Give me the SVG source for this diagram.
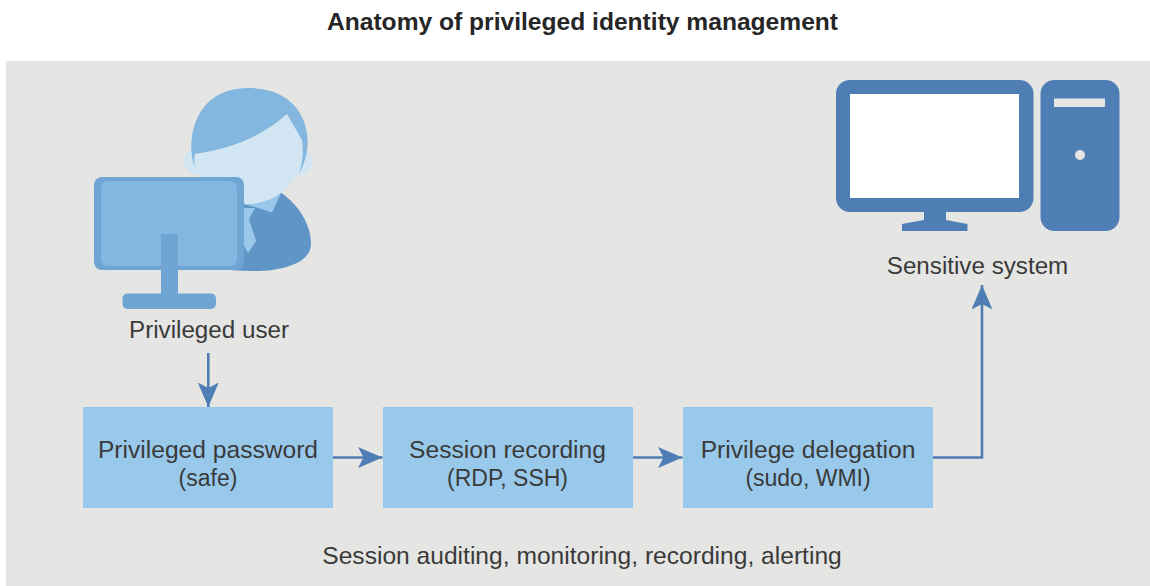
<svg xmlns="http://www.w3.org/2000/svg" width="1150" height="586" viewBox="0 0 1150 586">
<style>
text{font-family:"Liberation Sans",Arial,sans-serif;fill:#3a3a3a;font-size:24.6px;text-anchor:middle}
.title{font-weight:bold;fill:#262626}
.sub{font-size:23px}
.lab{font-size:24.2px}
.box{fill:#99c9ea}
.conn{fill:none;stroke:#4e7eb5;stroke-width:2.6}
.head{fill:#4e7eb5}
.dark{fill:#4f7eb5}
.m{fill:#6fa5d2}
.l{fill:#84b7e0}
.f{fill:#d1e6f2}
</style>
<defs>
<marker id="arrow" markerUnits="userSpaceOnUse" markerWidth="26" markerHeight="22" refX="24.500" refY="10.500" orient="auto">
<path class="head" d="M0 0L24.500 10.500L0 21L5.500 10.500Z"/>
</marker>
</defs>
<rect x="6" y="61" width="1144" height="525" fill="#e5e5e3"/>
<text class="title" x="582.500" y="30">Anatomy of privileged identity management</text>
<g id="privileged-user">
<path fill="#6096c7" d="M240 203L281.500 193C300 206 311 226 311 244C311 262 285 271 255 271C240 271 225 270 215 267Z"/>
<path fill="#9ac8ea" d="M243 204L281.500 192L272 212.500L255 207Z"/>
<path fill="#9ac8ea" d="M243 208H255L249 219L256 241L248 253L243 244Z"/>
<ellipse class="f" cx="199" cy="161" rx="15" ry="14"/>
<ellipse class="f" cx="297" cy="162" rx="15" ry="14"/>
<ellipse class="f" cx="248" cy="146" rx="56" ry="58"/>
<path class="l" d="M195 167C186 148 190 88 248 88C295 88 308 120 307.700 143C307 155 304 165 299 173C304 158 303 148 302 140L287 114C262 136 232 149 195 154C194 158 194 163 195 167Z"/>
<rect class="m" x="94" y="177" width="150" height="93" rx="8"/>
<rect class="l" x="101" y="181" width="136" height="85" rx="7"/>
<rect class="m" x="161" y="234" width="17" height="62"/>
<rect class="m" x="122.500" y="293.500" width="93.500" height="15.500" rx="5"/>
<text class="lab" x="209" y="337.500">Privileged user</text>
</g>
<g id="sensitive-system">
<rect class="dark" x="836" y="80" width="197.500" height="132" rx="14"/>
<rect x="850" y="94" width="169" height="104" fill="#fff"/>
<path class="dark" d="M924 211H946V220L967.500 224V231H902V224L924 220Z"/>
<rect class="dark" x="1040.500" y="80" width="79" height="151" rx="14"/>
<rect x="1054" y="98.500" width="51" height="8.500" fill="#e5e5e3"/>
<circle cx="1080" cy="155" r="5" fill="#e5e5e3"/>
<text class="lab" x="977.500" y="273.500">Sensitive system</text>
</g>
<g id="privileged-password">
<rect class="box" x="83" y="407" width="250" height="101"/>
<text x="208" y="457.500">Privileged password</text>
<text class="sub" x="208" y="486">(safe)</text>
</g>
<g id="session-recording">
<rect class="box" x="383" y="407" width="250" height="101"/>
<text x="507.500" y="457.500">Session recording</text>
<text class="sub" x="507.500" y="486">(RDP, SSH)</text>
</g>
<g id="privilege-delegation">
<rect class="box" x="683" y="407" width="250" height="101"/>
<text x="808" y="457.500">Privilege delegation</text>
<text class="sub" x="808" y="486">(sudo, WMI)</text>
</g>
<g id="connectors">
<path class="conn" marker-end="url(#arrow)" d="M208.300 353V407"/>
<path class="conn" marker-end="url(#arrow)" d="M333 457.500H382.500"/>
<path class="conn" marker-end="url(#arrow)" d="M633 457.500H682.500"/>
<path class="conn" marker-end="url(#arrow)" d="M933 457.500H982V285"/>
</g>
<text x="582" y="563.500">Session auditing, monitoring, recording, alerting</text>
</svg>
